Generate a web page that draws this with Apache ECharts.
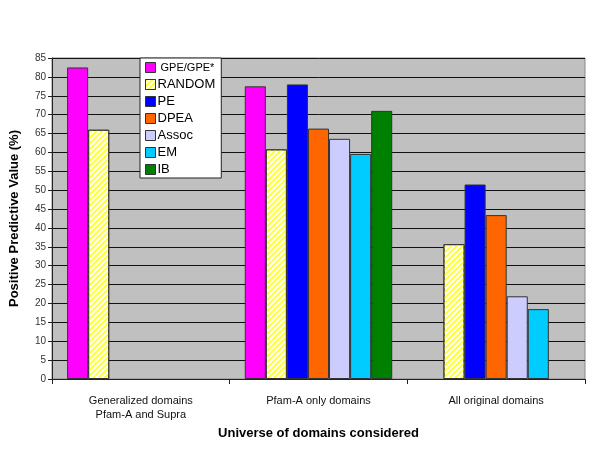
<!DOCTYPE html>
<html>
<head>
<meta charset="utf-8">
<script src="https://cdn.jsdelivr.net/npm/echarts@6/dist/echarts.min.js"></script>
<style>
  html, body { margin: 0; padding: 0; background: #fff; }
  #chart { width: 600px; height: 450px; }
</style>
</head>
<body>
<div id="chart"></div>
<script>
// categories on the x axis
const categories = ['Generalized domains\nPfam-A and Supra', 'Pfam-A only domains', 'All original domains'];

// one value per category, null where the method has no bar
const gpe    = [82.5, 77.5, null];
const random = [66.0, 60.8, 35.7];
const pe     = [null, 78.0, 51.5];
const dpea   = [null, 66.3, 43.4];
const assoc  = [null, 63.6, 21.9];
const em     = [null, 59.6, 18.5];
const ib     = [null, 71.0, null];

const seriesNames = ['GPE/GPE*', 'RANDOM', 'PE', 'DPEA', 'Assoc', 'EM', 'IB'];
const seriesData = [gpe, random, pe, dpea, assoc, em, ib];
const colors = ['#ff00ff', '#ffffff', '#0000ff', '#ff6600', '#ccccff', '#00ccff', '#008000'];

const chart = echarts.init(document.getElementById('chart'));

const series = seriesData.map((d, i) => {
  const s = {
    name: seriesNames[i],
    type: 'bar',
    data: d,
    barGap: '0%',
    barCategoryGap: '17%',
    itemStyle: {
      color: colors[i],
      borderColor: '#333',
      borderWidth: 1
    }
  };
  // hatched white/yellow bar
  if (seriesNames[i] === 'RANDOM') {
    s.itemStyle.decal = {
      symbol: 'rect',
      symbolSize: 1,
      color: '#ffff33',
      dashArrayX: [1, 0],
      dashArrayY: [2, 2],
      rotation: -Math.PI / 4
    };
  }
  return s;
});

chart.setOption({
  animation: false,
  textStyle: { fontFamily: 'Liberation Sans, Arial, sans-serif' },
  grid: { left: 48, right: 15, top: 58, bottom: 71, show: true, backgroundColor: '#c0c0c0', borderColor: '#888', borderWidth: 1 },
  legend: {
    orient: 'vertical',
    left: 140,
    top: 58,
    padding: [3, 6, 2, 5],
    backgroundColor: '#fff',
    borderColor: '#222',
    borderWidth: 1,
    icon: 'rect',
    itemWidth: 10,
    itemHeight: 10,
    itemGap: 4,
    formatter: n => n === 'GPE/GPE*' ? '{s| ' + n + '}' : n,
    textStyle: {
      fontSize: 13, lineHeight: 13, color: '#000', padding: [0, 0, 0, -3],
      rich: { s: { fontSize: 11, lineHeight: 13, color: '#000' } }
    },
    data: seriesNames.map(n => ({ name: n, itemStyle: { borderColor: '#333', borderWidth: 1 } }))
  },
  xAxis: {
    type: 'category',
    data: categories,
    name: 'Universe of domains considered',
    nameLocation: 'middle',
    nameGap: 46,
    nameTextStyle: { fontSize: 13, fontWeight: 'bold', color: '#000' },
    axisLine: { lineStyle: { color: '#222' } },
    axisTick: { show: true, length: 5, lineStyle: { color: '#222' } },
    axisLabel: { fontSize: 11, color: '#111', margin: 15, lineHeight: 14 }
  },
  yAxis: {
    type: 'value',
    min: 0,
    max: 85,
    interval: 5,
    name: 'Positive Predictive Value (%)',
    nameLocation: 'middle',
    nameGap: 31,
    nameTextStyle: { fontSize: 13, fontWeight: 'bold', color: '#000' },
    axisLine: { show: true, lineStyle: { color: '#222' } },
    axisTick: { show: true, length: 4, lineStyle: { color: '#222' } },
    axisLabel: { fontSize: 10, color: '#333', margin: 6 },
    splitLine: { show: true, lineStyle: { color: '#111', width: 1 } }
  },
  series: series
});
</script>
</body>
</html>
